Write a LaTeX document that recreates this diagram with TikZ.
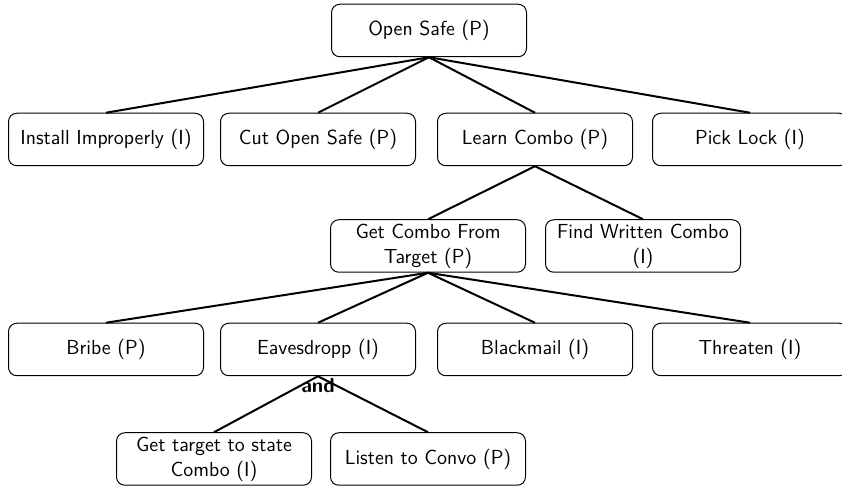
\documentclass[tikz,border=0pt]{standalone}
\begin{document}
\begin{tikzpicture}[x=0.6pt,y=-0.6pt,
  box/.style={draw, rounded corners=5pt, line width=0.6pt, minimum width=117pt, minimum height=31.5pt, align=center, font=\sffamily\fontsize{12.2}{15}\selectfont, inner sep=2pt},
  edge/.style={line width=1.2pt}]
\useasboundingbox (0,0) rectangle (842,486);
\node[box] (root) at (429,30.5) {Open Safe (P)};
\node[box] (ii) at (106,139.5) {Install Improperly (I)};
\node[box] (cos) at (318,139.5) {Cut Open Safe (P)};
\node[box] (lc) at (535,139.5) {Learn Combo (P)};
\node[box] (pl) at (750,139.5) {Pick Lock (I)};
\node[box] (gc) at (428,246) {Get Combo From\\Target (P)};
\node[box] (fw) at (643,246) {Find Written Combo\\(I)};
\node[box] (br) at (106,349.5) {Bribe (P)};
\node[box] (ev) at (318,349.5) {Eavesdropp (I)};
\node[box] (bm) at (535,349.5) {Blackmail (I)};
\node[box] (th) at (750,349.5) {Threaten (I)};
\node[box] (gt) at (214,459) {Get target to state\\Combo (I)};
\node[box] (lt) at (428,459) {Listen to Convo (P)};
\foreach \c in {ii,cos,lc,pl} \draw[edge] (root.south) -- (\c.north);
\foreach \c in {gc,fw} \draw[edge] (lc.south) -- (\c.north);
\foreach \c in {br,ev,bm,th} \draw[edge] (gc.south) -- (\c.north);
\foreach \c in {gt,lt} \draw[edge] (ev.south) -- (\c.north);
\node[anchor=north, inner sep=1pt, font=\sffamily\bfseries\fontsize{12.2}{15}\selectfont] (and) at (ev.south) {and};
\end{tikzpicture}
\end{document}
